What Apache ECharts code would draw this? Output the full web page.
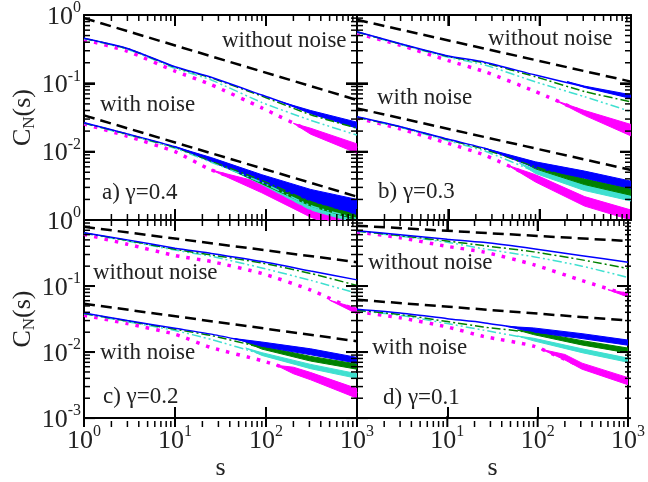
<!DOCTYPE html>
<html>
<head>
<meta charset="utf-8">
<script src="https://cdn.jsdelivr.net/npm/echarts@6/dist/echarts.min.js"></script>
<style>
  html, body { margin: 0; padding: 0; background: #fff; }
  #chart { width: 648px; height: 482px; }
</style>
</head>
<body>
<div id="chart"></div>
<script>
const sGrid = [1, 3, 10, 25, 90, 310, 1000];
const sRef = [1, 1000];

// a) gamma = 0.4
const aUpRef = [0.9, 0.057];
const aLowRef = [0.034, 0.0022];
const aUpBlue = [0.456, 0.324, 0.175, 0.123, 0.0676, 0.038, 0.024];
const aUpGreen = [0.455, 0.322, 0.172, 0.120, 0.065, 0.0347, 0.0221];
const aUpCyan = [0.45, 0.316, 0.166, 0.112, 0.0525, 0.0288, 0.0175];
const aUpMagenta = [0.437, 0.295, 0.151, 0.0955, 0.0437, 0.02, 0.0112];
const aLowBlue = [0.0265, 0.0182, 0.0118, 0.0076, 0.00407, 0.00232, 0.00155];
const aLowGreen = [0.0263, 0.018, 0.0115, 0.0073, 0.0038, 0.00186, 0.00117];
const aLowCyan = [0.026, 0.0177, 0.0112, 0.007, 0.00355, 0.00162, 0.00105];
const aLowMagenta = [0.0255, 0.0168, 0.01, 0.0054, 0.00295, 0.00132, 0.0007];
// noise envelopes: [s, low, high]
const aUpBlueNoise = [[150, 0.053, 0.053], [310, 0.036, 0.040], [1000, 0.022, 0.027]];
const aUpMagentaNoise = [[200, 0.026, 0.026], [310, 0.018, 0.022], [1000, 0.0095, 0.013]];
const aLowBlueNoise = [[10, 0.0118, 0.0118], [25, 0.0071, 0.0082], [90, 0.0036, 0.0046], [310, 0.0019, 0.0028], [1000, 0.0012, 0.0020]];
const aLowGreenNoise = [[25, 0.0073, 0.0073], [90, 0.0034, 0.0042], [310, 0.0016, 0.0022], [1000, 0.0010, 0.0014]];
const aLowCyanNoise = [[50, 0.0048, 0.0048], [90, 0.0033, 0.0039], [310, 0.0014, 0.0019], [1000, 0.0009, 0.0012]];
const aLowMagentaNoise = [[25, 0.0054, 0.0054], [90, 0.0025, 0.0035], [310, 0.0011, 0.0016], [1000, 0.0006, 0.0009]];

// b) gamma = 0.3
const bUpRef = [0.85, 0.106];
const bLowRef = [0.043, 0.0054];
const bUpBlue = [0.57, 0.38, 0.251, 0.204, 0.132, 0.089, 0.0637];
const bUpGreen = [0.565, 0.375, 0.246, 0.198, 0.125, 0.0759, 0.0537];
const bUpCyan = [0.56, 0.37, 0.24, 0.186, 0.105, 0.0637, 0.0385];
const bUpMagenta = [0.537, 0.36, 0.215, 0.148, 0.0759, 0.0372, 0.0209];
const bLowBlue = [0.0324, 0.0232, 0.0152, 0.0112, 0.0064, 0.00457, 0.00324];
const bLowGreen = [0.032, 0.023, 0.0149, 0.0108, 0.006, 0.00363, 0.00257];
const bLowCyan = [0.0318, 0.0227, 0.0144, 0.0102, 0.00513, 0.00295, 0.00209];
const bLowMagenta = [0.031, 0.0215, 0.0132, 0.0089, 0.00407, 0.00186, 0.00117];
const bUpBlueNoise = [[200, 0.106, 0.106], [310, 0.087, 0.091], [1000, 0.060, 0.068]];
const bUpMagentaNoise = [[150, 0.056, 0.056], [310, 0.034, 0.040], [1000, 0.017, 0.025]];
const bLowBlueNoise = [[25, 0.0112, 0.0112], [90, 0.0058, 0.0071], [310, 0.0041, 0.0052], [1000, 0.0029, 0.0037]];
const bLowGreenNoise = [[60, 0.0075, 0.0075], [90, 0.0056, 0.0064], [310, 0.0033, 0.0040], [1000, 0.0023, 0.0029]];
const bLowCyanNoise = [[60, 0.0068, 0.0068], [90, 0.0048, 0.0055], [310, 0.0027, 0.0033], [1000, 0.0019, 0.0023]];
const bLowMagentaNoise = [[45, 0.0063, 0.0063], [90, 0.0036, 0.0046], [310, 0.0016, 0.0022], [1000, 0.0010, 0.0014]];

// c) gamma = 0.2
const cUpRef = [0.79, 0.23];
const cLowRef = [0.054, 0.0146];
const cUpBlue = [0.64, 0.5, 0.373, 0.311, 0.235, 0.169, 0.124];
const cUpGreen = [0.635, 0.49, 0.36, 0.296, 0.223, 0.155, 0.102];
const cUpCyan = [0.63, 0.48, 0.35, 0.282, 0.188, 0.122, 0.0776];
const cUpMagenta = [0.607, 0.43, 0.29, 0.235, 0.155, 0.087, 0.042];
const cLowBlue = [0.039, 0.030, 0.0229, 0.0187, 0.0131, 0.01, 0.0075];
const cLowGreen = [0.0385, 0.0295, 0.0222, 0.0178, 0.0117, 0.0079, 0.006];
const cLowCyan = [0.038, 0.0288, 0.0212, 0.0155, 0.0093, 0.006, 0.0043];
const cLowMagenta = [0.036, 0.027, 0.0186, 0.0117, 0.0074, 0.0043, 0.00234];
const cUpMagentaNoise = [[500, 0.061, 0.061], [1000, 0.038, 0.046]];
const cLowBlueNoise = [[45, 0.0160, 0.0160], [90, 0.0122, 0.0142], [310, 0.0091, 0.0112], [1000, 0.0068, 0.0083]];
const cLowGreenNoise = [[60, 0.0140, 0.0140], [90, 0.0111, 0.0124], [310, 0.0073, 0.0086], [1000, 0.0055, 0.0066]];
const cLowCyanNoise = [[60, 0.0115, 0.0115], [90, 0.0089, 0.0098], [310, 0.0056, 0.0065], [1000, 0.0040, 0.0047]];
const cLowMagentaNoise = [[130, 0.0063, 0.0063], [200, 0.0047, 0.0059], [310, 0.0038, 0.0049], [1000, 0.0020, 0.0028]];

// d) gamma = 0.1
const dUpRef = [0.82, 0.48];
const dLowRef = [0.062, 0.030];
const dUpBlue = [0.69, 0.60, 0.513, 0.459, 0.367, 0.288, 0.230];
const dUpGreen = [0.68, 0.58, 0.48, 0.41, 0.329, 0.249, 0.184];
const dUpCyan = [0.675, 0.57, 0.46, 0.367, 0.278, 0.20, 0.135];
const dUpMagenta = [0.66, 0.54, 0.398, 0.329, 0.211, 0.121, 0.073];
const dLowBlue = [0.0444, 0.039, 0.032, 0.0279, 0.0215, 0.0173, 0.0138];
const dLowGreen = [0.043, 0.037, 0.029, 0.024, 0.0195, 0.0138, 0.0105];
const dLowCyan = [0.0425, 0.036, 0.027, 0.0215, 0.0155, 0.0105, 0.0075];
const dLowMagenta = [0.041, 0.033, 0.024, 0.0173, 0.0123, 0.006, 0.0036];
const dUpMagentaNoise = [[600, 0.088, 0.088], [1000, 0.068, 0.078]];
const dLowBlueNoise = [[45, 0.0245, 0.0245], [90, 0.0200, 0.0232], [310, 0.0160, 0.0190], [1000, 0.0127, 0.0152]];
const dLowGreenNoise = [[60, 0.0215, 0.0215], [90, 0.0184, 0.0205], [310, 0.0128, 0.0149], [1000, 0.0097, 0.0115]];
const dLowCyanNoise = [[60, 0.0175, 0.0175], [90, 0.0148, 0.0162], [310, 0.0098, 0.0112], [1000, 0.0070, 0.0081]];
const dLowMagentaNoise = [[110, 0.0110, 0.0110], [200, 0.0076, 0.0092], [310, 0.0055, 0.0068], [1000, 0.0032, 0.0041]];

const panelCurves = [
  { ref: [aUpRef, aLowRef], blue: [aUpBlue, aLowBlue], green: [aUpGreen, aLowGreen], cyan: [aUpCyan, aLowCyan], magenta: [aUpMagenta, aLowMagenta],
    noise: { blue: [aUpBlueNoise, aLowBlueNoise], green: [aLowGreenNoise], cyan: [aLowCyanNoise], magenta: [aUpMagentaNoise, aLowMagentaNoise] } },
  { ref: [bUpRef, bLowRef], blue: [bUpBlue, bLowBlue], green: [bUpGreen, bLowGreen], cyan: [bUpCyan, bLowCyan], magenta: [bUpMagenta, bLowMagenta],
    noise: { blue: [bUpBlueNoise, bLowBlueNoise], green: [bLowGreenNoise], cyan: [bLowCyanNoise], magenta: [bUpMagentaNoise, bLowMagentaNoise] } },
  { ref: [cUpRef, cLowRef], blue: [cUpBlue, cLowBlue], green: [cUpGreen, cLowGreen], cyan: [cUpCyan, cLowCyan], magenta: [cUpMagenta, cLowMagenta],
    noise: { blue: [cLowBlueNoise], green: [cLowGreenNoise], cyan: [cLowCyanNoise], magenta: [cUpMagentaNoise, cLowMagentaNoise] } },
  { ref: [dUpRef, dLowRef], blue: [dUpBlue, dLowBlue], green: [dUpGreen, dLowGreen], cyan: [dUpCyan, dLowCyan], magenta: [dUpMagenta, dLowMagenta],
    noise: { blue: [dLowBlueNoise], green: [dLowGreenNoise], cyan: [dLowCyanNoise], magenta: [dUpMagentaNoise, dLowMagentaNoise] } }
];

const FONT = 'Liberation Serif';
const TEXT = '#222';
const styles = {
  magenta: { color: '#ff00ff', width: 3.5, type: [3.5, 7] },
  cyan: { color: '#40e0d0', width: 1.5, type: [9, 3, 2, 3, 2, 3] },
  green: { color: '#008000', width: 1.5, type: [9, 3, 2, 3] },
  blue: { color: '#0000ff', width: 1.5, type: 'solid' },
  ref: { color: '#000', width: 2.5, type: [11, 6] }
};

const grids = [
  { left: 84, top: 15, width: 273, height: 205 },
  { left: 357, top: 15, width: 274, height: 205 },
  { left: 84, top: 220, width: 273, height: 207 },
  { left: 357, top: 220, width: 274, height: 207 }
];

function powLabel(v) {
  const e = Math.round(Math.log10(v));
  return '{b|10}{e|' + e + '}';
}
function powRich() {
  return {
    b: { fontFamily: FONT, fontSize: 26, color: TEXT, lineHeight: 30, verticalAlign: 'bottom' },
    e: { fontFamily: FONT, fontSize: 16, color: TEXT, lineHeight: 16, verticalAlign: 'top' }
  };
}
function baseAxis(extra) {
  return Object.assign({
    type: 'log',
    axisLine: { show: true, onZero: false, lineStyle: { color: '#000', width: 2 } },
    axisTick: { show: true, inside: true, length: 11, lineStyle: { color: '#000', width: 2 } },
    splitLine: { show: false }
  }, extra);
}

const xAxes = [], yAxes = [];
grids.forEach((g, i) => {
  const bottomRow = i >= 2, leftCol = i % 2 === 0;
  xAxes.push(baseAxis({
    min: 1, max: 1000, gridIndex: i, position: 'bottom',
    axisLabel: { show: bottomRow, margin: 6, showMinLabel: leftCol, showMaxLabel: true, formatter: powLabel, rich: powRich() },
    name: bottomRow ? 's' : '', nameLocation: 'middle', nameGap: 30,
    nameTextStyle: { fontFamily: FONT, fontSize: 26, color: TEXT }
  }));
  xAxes.push(baseAxis({ min: 1, max: 1000, gridIndex: i, position: 'top', axisLabel: { show: false } }));
  yAxes.push(baseAxis({
    min: 0.001, max: 1, gridIndex: i, position: 'left',
    axisLabel: { show: leftCol, margin: 3, showMinLabel: bottomRow, showMaxLabel: true, formatter: powLabel, rich: powRich() },
    name: leftCol ? '{c|C}{n|N}{c|(s)}' : '', nameLocation: 'middle', nameGap: 46,
    nameTextStyle: {
      rich: {
        c: { fontFamily: FONT, fontSize: 26, color: TEXT, lineHeight: 30 },
        n: { fontFamily: FONT, fontSize: 17, color: TEXT, verticalAlign: 'bottom', lineHeight: 20 }
      }
    }
  }));
  yAxes.push(baseAxis({ min: 0.001, max: 1, gridIndex: i, position: 'right', axisLabel: { show: false } }));
});

// tick values: decades and 2..9 within each decade
const majorX = [1, 10, 100, 1000];
const majorY = [0.001, 0.01, 0.1, 1];
const minorX = [], minorY = [];
[1, 10, 100].forEach(d => { for (let k = 2; k <= 9; k++) minorX.push(d * k); });
[0.001, 0.01, 0.1].forEach(d => { for (let k = 2; k <= 9; k++) minorY.push(d * k); });

function bandRenderer(band, color) {
  return function (params, api) {
    if (params.dataIndex !== 0) return null;
    const top = band.map(p => api.coord([p[0], p[2]]));
    const bot = band.map(p => api.coord([p[0], p[1]])).reverse();
    return {
      type: 'polygon',
      shape: { points: top.concat(bot) },
      style: { fill: color, stroke: color, lineWidth: 1 }
    };
  };
}

const series = [];
panelCurves.forEach((pc, i) => {
  const xi = 2 * i, yi = 2 * i;
  ['magenta', 'cyan', 'green', 'blue'].forEach(key => {
    const st = styles[key];
    (pc.noise[key] || []).forEach(band => {
      series.push({
        type: 'custom', xAxisIndex: xi, yAxisIndex: yi, clip: true,
        renderItem: bandRenderer(band, st.color),
        data: band.map(p => [p[0], p[1]])
      });
    });
    pc[key].forEach(vals => {
      series.push({
        type: 'line', xAxisIndex: xi, yAxisIndex: yi, showSymbol: false, smooth: 0.2, clip: true,
        lineStyle: { color: st.color, width: st.width, type: st.type, cap: 'butt' },
        data: sGrid.map((s, k) => [s, vals[k]])
      });
    });
  });
  pc.ref.forEach(vals => {
    series.push({
      type: 'line', xAxisIndex: xi, yAxisIndex: yi, showSymbol: false, clip: true,
      lineStyle: { color: styles.ref.color, width: styles.ref.width, type: styles.ref.type },
      data: sRef.map((s, k) => [s, vals[k]])
    });
  });
});

const notes = [
  { text: 'without noise', left: 222, top: 29 },
  { text: 'with noise', left: 100, top: 93 },
  { text: 'a) γ=0.4', left: 102, top: 181 },
  { text: 'without noise', left: 488, top: 27 },
  { text: 'with noise', left: 377, top: 86 },
  { text: 'b) γ=0.3', left: 378, top: 180 },
  { text: 'without noise', left: 93, top: 261 },
  { text: 'with noise', left: 100, top: 341 },
  { text: 'c) γ=0.2', left: 103, top: 385 },
  { text: 'without noise', left: 368, top: 251 },
  { text: 'with noise', left: 372, top: 336 },
  { text: 'd) γ=0.1', left: 383, top: 386 }
];
const noteEls = notes.map(n => ({
  type: 'text', left: n.left, top: n.top, z: 20,
  style: { text: n.text, fontFamily: FONT, fontSize: 23, fill: TEXT }
}));

const chart = echarts.init(document.getElementById('chart'));
chart.setOption({
  animation: false,
  backgroundColor: '#fff',
  grid: grids,
  xAxis: xAxes,
  yAxis: yAxes,
  series,
  graphic: { elements: noteEls }
});

// inward ticks on all four sides of each panel, placed through the axes' own scales
function tickLine(x1, y1, x2, y2, w) {
  return { type: 'line', z: 30, silent: true, shape: { x1, y1, x2, y2 }, style: { stroke: '#000', lineWidth: w } };
}
const tickEls = [];
grids.forEach((g, i) => {
  const b = g.top + g.height, r = g.left + g.width;
  const addX = (vals, len, w) => vals.forEach(v => {
    const x = chart.convertToPixel({ gridIndex: i }, [v, 0.01])[0];
    tickEls.push(tickLine(x, b, x, b - len, w), tickLine(x, g.top, x, g.top + len, w));
  });
  const addY = (vals, len, w) => vals.forEach(v => {
    const y = chart.convertToPixel({ gridIndex: i }, [10, v])[1];
    tickEls.push(tickLine(g.left, y, g.left + len, y, w), tickLine(r, y, r - len, y, w));
  });
  addX(minorX, 6, 1.5);
  addY(minorY, 6, 1.5);
  addX(majorX, 11, 2);
  addY(majorY, 11, 2);
});
chart.setOption({ graphic: { elements: noteEls.concat(tickEls) } });
</script>
</body>
</html>
